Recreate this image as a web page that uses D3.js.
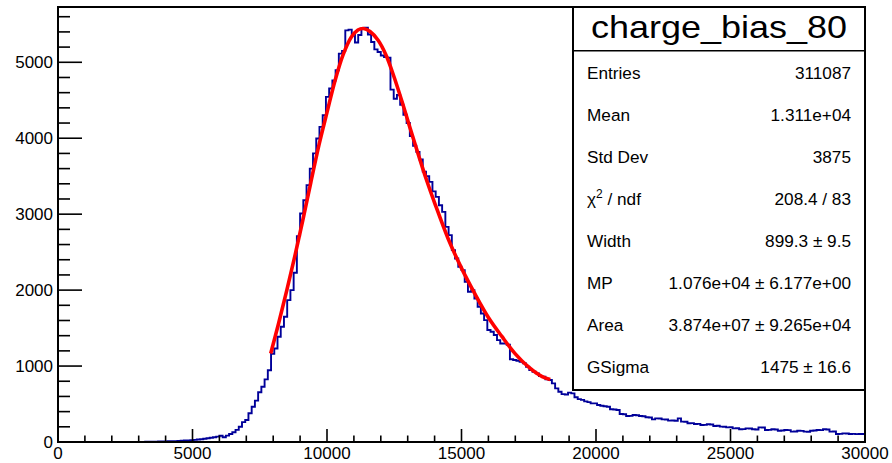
<!DOCTYPE html>
<html><head><meta charset="utf-8">
<script src="https://cdn.jsdelivr.net/npm/d3@7"></script>
<style>
body{margin:0;background:#fff}
text{font-family:"Liberation Sans",Arial,Helvetica,sans-serif;fill:#000}
</style>
</head><body><svg id="c" width="892" height="463"></svg>
<script>
// ---- data ----
const histTitle = "charge_bias_80";
const xMin = 0, xMax = 30000, nBins = 250;
const yMax = 5728;
const counts = [
  0,0,0,0,0,0,0,0,0,0,0,0,0,0,0,0,0,0,0,0,0,
  1,0,1,2,1,2,3,3,4,5,6,7,8,
  9,11,12,14,17,19,22,25,
  28,33,37,43,49,55,62,71,
  82,62,84,106,128,160,200,262,290,378,465,545,655,728,825,945,
  1160,1232,1386,1518,1650,1868,2000,2228,2711,3009,3184,3382,
  3600,3800,3996,4149,4303,4544,4654,4760,4895,5114,5150,5420,5430,5370,5260,5360,5445,5456,5365,5267,
  5170,5136,5090,5070,5060,4640,4520,4570,4440,4310,4200,4030,3900,3820,3720,3560,3500,
  3425,3300,3228,3118,3030,2833,2724,2526,2417,2307,2263,2109,1978,2000,1890,1781,1693,1605,1474,1451,
  1408,1342,1298,1298,1280,1090,1079,1070,1057,1035,991,947,925,904,868,859,825,816,
  772,706,662,630,625,650,640,590,565,555,535,525,509,509,487,478,470,465,432,428,421,
  368,366,342,344,355,353,342,340,325,322,298,311,309,298,296,281,283,279,311,268,266,246,248,237,239,
  224,226,233,231,211,213,202,200,193,195,180,182,167,169,180,178,167,165,193,191,158,160,167,165,
  149,151,158,156,136,138,149,147,136,134,149,151,158,156,167,165,136,138,105,107,114,112,105,107,104,106,105
];
const fitX = [7907,8200,8500,8800,9100,9400,9700,10000,10300,10600,10900,11150,11350,11600,11900,12200,12500,12800,13100,13400,13700,14000,14500,15000,15500,16000,16500,17000,17500,18000,18300];
const fitY = [1165,1560,1990,2440,2920,3420,3910,4340,4760,5100,5330,5425,5445,5405,5290,5090,4800,4470,4120,3780,3450,3150,2680,2290,1950,1640,1390,1160,985,860,822];
const xTickValues = [0,5000,10000,15000,20000,25000,30000];
const yTickValues = [0,1000,2000,3000,4000,5000];
const statsLabels = ["Entries","Mean","Std Dev","CHI","Width","MP","Area","GSigma"];
const statsValues = ["311087","1.311e+04","3875","208.4 / 83","899.3 \u00b1 9.5","1.076e+04 \u00b1 6.177e+00","3.874e+07 \u00b1 9.265e+04","1475 \u00b1 16.6"];

// ---- layout ----
const W = 892, H = 463;
const m = {left:58, right:27, top:7, bottom:21};
const svg = d3.select("#c");
const x = d3.scaleLinear().domain([xMin, xMax]).range([m.left, W - m.right]);
const y = d3.scaleLinear().domain([0, yMax]).range([H - m.bottom, m.top]);
const binW = (xMax - xMin) / nBins;

svg.append("defs").append("clipPath").attr("id","clip")
  .append("rect").attr("x",m.left).attr("y",m.top)
  .attr("width",W-m.left-m.right).attr("height",H-m.top-m.bottom);

// histogram step outline
const pts = counts.map((c,i)=>[xMin + i*binW, c]);
pts.push([xMax, counts[counts.length-1]]);
svg.append("path")
  .attr("clip-path","url(#clip)")
  .attr("d", d3.line().x(d=>x(d[0])).y(d=>y(d[1])).curve(d3.curveStepAfter)(pts))
  .attr("fill","none").attr("stroke","#000099").attr("stroke-width",1.9);

// fit curve
svg.append("path")
  .attr("clip-path","url(#clip)")
  .attr("d", d3.line().x((d,i)=>x(fitX[i])).y(d=>y(d)).curve(d3.curveCatmullRom)(fitY))
  .attr("fill","none").attr("stroke","#ff0000").attr("stroke-width",3.6)
  .attr("stroke-linecap","butt");

// axes (ROOT style: ticks inside)
const gx = svg.append("g");
d3.range(0, 30001, 1000).forEach(v=>{
  const major = v % 5000 === 0;
  gx.append("line").attr("x1",x(v)).attr("x2",x(v))
    .attr("y1",y(0)).attr("y2",y(0)-(major?13:6.5))
    .attr("stroke","#000").attr("stroke-width",1.6);
});
xTickValues.forEach(v=>{
  gx.append("text").attr("x",x(v)).attr("y",459)
    .attr("text-anchor","middle").attr("font-size",17).text(v);
});
const gy = svg.append("g");
d3.range(0, yMax, 200).forEach(v=>{
  const major = v % 1000 === 0;
  gy.append("line").attr("x1",x(0)).attr("x2",x(0)+(major?24:12))
    .attr("y1",y(v)).attr("y2",y(v))
    .attr("stroke","#000").attr("stroke-width",1.6);
});
yTickValues.forEach(v=>{
  gy.append("text").attr("x",53).attr("y",y(v)).attr("dy","0.36em")
    .attr("text-anchor","end").attr("font-size",17).text(v);
});

// frame
svg.append("rect").attr("x",m.left).attr("y",m.top)
  .attr("width",W-m.left-m.right).attr("height",H-m.top-m.bottom)
  .attr("fill","none").attr("stroke","#000").attr("stroke-width",2);

// stats box
const bx = 573, by = 7, bw = 865 - 573, bh = 390 - 7;
const sb = svg.append("g");
sb.append("rect").attr("x",bx).attr("y",by).attr("width",bw).attr("height",bh)
  .attr("fill","#fff").attr("stroke","#000").attr("stroke-width",2);
sb.append("line").attr("x1",bx).attr("x2",bx+bw).attr("y1",50.7).attr("y2",50.7)
  .attr("stroke","#000").attr("stroke-width",1.6);
sb.append("text").attr("x",bx+bw/2).attr("y",37.5).attr("text-anchor","middle")
  .attr("font-size",31.5).attr("textLength",256).attr("lengthAdjust","spacingAndGlyphs")
  .text(histTitle);
statsLabels.forEach((lab,i)=>{
  const yy = 78.5 + i*42.1;
  const t = sb.append("text").attr("x",587).attr("y",yy).attr("font-size",17.2);
  if (lab === "CHI") {
    t.append("tspan").text("\u03c7");
    t.append("tspan").attr("dy",-7).attr("font-size",12).text("2");
    t.append("tspan").attr("dy",7).text(" / ndf");
  } else t.text(lab);
  sb.append("text").attr("x",851).attr("y",yy).attr("text-anchor","end")
    .attr("font-size",17.2).text(statsValues[i]);
});
</script>
</body></html>
